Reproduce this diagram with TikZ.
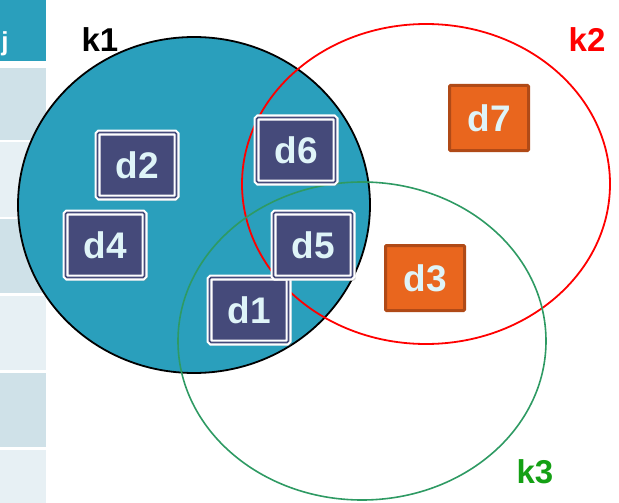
\documentclass[tikz,border=0pt]{standalone}
\usepackage{fontspec}
\setmainfont{Liberation Sans}
\usetikzlibrary{positioning, shadows}
\definecolor{teal1}{HTML}{2A9FBC}
\definecolor{rowA}{HTML}{CFE1E8}
\definecolor{rowB}{HTML}{E7F0F4}
\definecolor{navy1}{HTML}{454A7A}
\definecolor{orange1}{HTML}{E9661E}
\definecolor{orange2}{HTML}{B04A17}
\definecolor{txt1}{HTML}{DFF4F8}
\definecolor{green1}{HTML}{2E9A63}
\definecolor{green2}{HTML}{14A014}
\tikzset{
  docbox/.style={draw=white, double=navy1, double distance=1.6pt, line width=2.2pt,
    rounded corners=1.5pt, fill=navy1, minimum width=79pt, minimum height=65pt, text=txt1,
    font=\fontsize{37}{40}\selectfont\bfseries,
    drop shadow={shadow xshift=3pt, shadow yshift=-3pt, opacity=0.35}},
  hitbox/.style={draw=orange2, line width=3pt, rounded corners=1pt, fill=orange1,
    minimum width=79pt, minimum height=65pt, text=txt1,
    font=\fontsize{37}{40}\selectfont\bfseries},
  klabel/.style={font=\fontsize{33}{36}\selectfont\bfseries}
}
\begin{document}
\begin{tikzpicture}[x=1pt, y=-1pt]
    \useasboundingbox (0,0) rectangle (619,503);

    % table strip on the left
    \fill[teal1] (0,0) rectangle (46,61);
    \node[text=white, font=\fontsize{26}{28}\selectfont\bfseries] (jhead) at (5,44) {j};
    \foreach \ya/\yb/\col in {68/140/rowA, 142/217/rowB, 219/293/rowA,
                              296/370/rowB, 373/447/rowA, 450/503/rowB}
      \fill[\col] (0,\ya) rectangle (46,\yb);

    % clusters
    \draw[line width=1.8pt, fill=teal1] (194,205) ellipse [x radius=176, y radius=168];
    \draw[line width=1.8pt, red] (426,184) ellipse [x radius=184, y radius=160];
    \draw[line width=1.6pt, green1] (362,341) ellipse [x radius=184, y radius=159];

    \node[klabel] (k1) at (100,40) {k1};
    \node[klabel, text=red] (k2) at (587,40) {k2};
    \node[klabel, text=green2] (k3) at (535,472) {k3};

    % documents
    \node[docbox] (d2) at (137,165) {d2};
    \node[docbox] (d4) at (105,245) {d4};
    \node[docbox] (d6) at (296,150) {d6};
    \node[docbox] (d1) at (249,310) {d1};
    \node[docbox] (d5) at (313,245) {d5};
    \node[hitbox] (d7) at (489,118) {d7};
    \node[hitbox] (d3) at (425,278) {d3};
\end{tikzpicture}
\end{document}
